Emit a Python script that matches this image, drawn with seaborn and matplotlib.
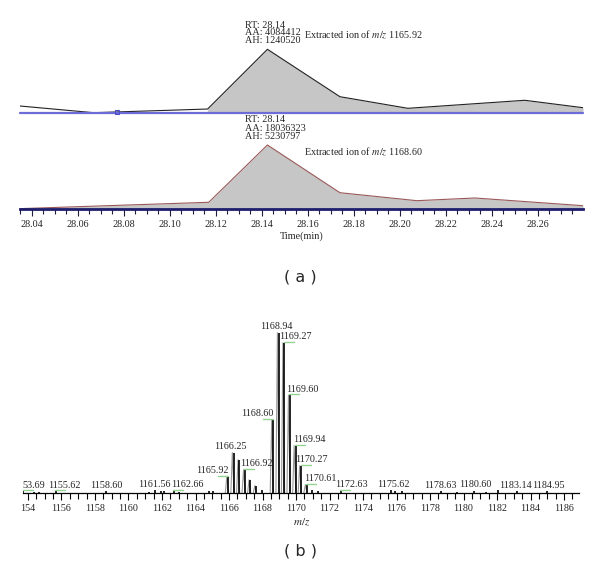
import numpy as np
import pandas as pd
import seaborn as sns
import matplotlib.pyplot as plt
from matplotlib.ticker import MultipleLocator, FixedLocator

# (a) extracted ion chromatograms
rt_top = [28.035, 28.067, 28.1165, 28.1425, 28.174, 28.2035, 28.2543, 28.2796]
int_top = [131000, 0, 72000, 1240520, 313000, 86000, 243000, 98000]
rt_bot = [28.035, 28.117, 28.1425, 28.174, 28.2074, 28.2326, 28.2796]
int_bot = [30000, 548000, 5230797, 1332000, 680000, 900000, 270000]
marker_rt = 28.077
info_top = "RT: 28.14\nAA: 4084412\nAH: 1240520"
info_bot = "RT: 28.14\nAA: 18036323\nAH: 5230797"
title_top = "Extracted ion of $m/z$ 1165.92"
title_bot = "Extracted ion of $m/z$ 1168.60"

# (b) mass spectrum (relative intensity, %)
peak_mz = [1153.69, 1154.3, 1154.6, 1155.62, 1158.60, 1161.2, 1161.56, 1161.9, 1162.1,
           1162.66, 1163.0, 1164.8, 1165.0,
           1165.92, 1166.25, 1166.59, 1166.92, 1167.25, 1167.59, 1167.92,
           1168.60, 1168.94, 1169.27, 1169.60, 1169.94, 1170.27, 1170.61, 1170.94, 1171.27,
           1172.63, 1175.62, 1175.9, 1176.3, 1178.63, 1179.6, 1180.60, 1181.3, 1182.0,
           1183.14, 1184.95]
peak_int = [0.8, 0.6, 0.6, 1.0, 0.8, 0.6, 1.4, 1.0, 0.8,
            1.2, 0.6, 0.8, 1.0,
            10.0, 25.0, 20.6, 14.4, 8.1, 4.4, 1.9,
            45.6, 100.0, 93.8, 61.0, 29.4, 16.9, 5.0, 1.9, 1.2,
            1.2, 1.6, 1.2, 0.8, 0.8, 0.6, 1.2, 0.6, 1.6,
            1.0, 0.8]
label_mz = [1153.69, 1155.62, 1158.60, 1161.56, 1162.66, 1165.92, 1166.25, 1166.92,
            1168.60, 1168.94, 1169.27, 1169.60, 1169.94, 1170.27, 1170.61, 1172.63,
            1175.62, 1178.63, 1180.60, 1183.14, 1184.95]
label_txt = ["53.69", "1155.62", "1158.60", "1161.56", "1162.66", "1165.92", "1166.25",
             "1166.92", "1168.60", "1168.94", "1169.27", "1169.60", "1169.94", "1170.27",
             "1170.61", "1172.63", "1175.62", "1178.63", "1180.60", "1183.14", "1184.95"]
# horizontal shift of each label (pixels) chosen to avoid overlaps
label_dx = [11, 9, 1, 0, 14, -15, -3, 12, -15, -2, 12, 13, 14, 11, 14, 11, 3, 0, 2, -1, 2]
ms_ticks = list(range(1154, 1187, 2))
ms_ticklabels = ["154"] + [str(t) for t in ms_ticks[1:]]

sns.set_theme(style="white")
plt.rcParams["font.family"] = ["Liberation Serif", "DejaVu Serif"]
plt.rcParams["mathtext.fontset"] = "stix"
FS = 7.3

fig = plt.figure(figsize=(6, 5.76), dpi=100)


def px_axes(l, t, r, b):
    ax = fig.add_axes([l / 600, 1 - b / 576, (r - l) / 600, (b - t) / 576])
    ax.set_facecolor("none")
    return ax


xlim_rt = (28.035, 28.2796)

# top chromatogram
ax1 = px_axes(20, 20, 583, 112.7)
ax1.set_xlim(*xlim_rt)
ax1.set_ylim(0, 1240520 * 92.7 / 63.4)
ax1.fill_between(rt_top[2:], 0, int_top[2:], color="#c6c6c6", lw=0)
sns.lineplot(x=rt_top, y=int_top, ax=ax1, color="#222222", lw=0.8, estimator=None, sort=False)
ax1.axhline(0, color="#6c6cd8", lw=1.6, clip_on=False)
ax1.plot([marker_rt], [8000], marker="s", ms=3.5, mfc="none", mec="#4b4bc8", mew=0.8, clip_on=False)
pk = int(np.argmax(int_top))
ax1.annotate(info_top, (rt_top[pk], int_top[pk]), xytext=(-22, 16.6), textcoords="offset pixels",
             fontsize=FS, ha="left", va="center", linespacing=0.8)
ax1.annotate(title_top, (rt_top[pk], int_top[pk]), xytext=(37, 14), textcoords="offset pixels",
             fontsize=FS, ha="left", va="center")
ax1.axis("off")

# bottom chromatogram
ax2 = px_axes(20, 113, 583, 209)
ax2.set_xlim(*xlim_rt)
ax2.set_ylim(0, 5230797 * 96 / 64)
ax2.fill_between(rt_bot, 0, int_bot, color="#c6c6c6", lw=0)
sns.lineplot(x=rt_bot, y=int_bot, ax=ax2, color="#9a5858", lw=0.8, estimator=None, sort=False)
pk = int(np.argmax(int_bot))
ax2.annotate(info_bot, (rt_bot[pk], int_bot[pk]), xytext=(-22, 16.7), textcoords="offset pixels",
             fontsize=FS, ha="left", va="center", linespacing=0.95)
ax2.annotate(title_bot, (rt_bot[pk], int_bot[pk]), xytext=(37, -7.3), textcoords="offset pixels",
             fontsize=FS, ha="left", va="center")
for s in ["top", "right", "left"]:
    ax2.spines[s].set_visible(False)
ax2.spines["bottom"].set_color("#1e1e6e")
ax2.spines["bottom"].set_linewidth(2)
ax2.set_yticks([])
ax2.xaxis.set_major_locator(MultipleLocator(0.02))
ax2.xaxis.set_minor_locator(MultipleLocator(0.005))
ax2.xaxis.set_major_formatter(plt.FormatStrFormatter("%.2f"))
ax2.tick_params(axis="x", which="both", bottom=True, direction="out", color="#1e1e3e",
                width=0.8, labelsize=FS, pad=3)
ax2.tick_params(axis="x", which="major", length=5)
ax2.tick_params(axis="x", which="minor", length=3.5)
ax2.set_xlabel("Time(min)", fontsize=FS, labelpad=2)
ax2.set_ylabel("")

fig.text(0.5, 1 - 277 / 576, "( a )", ha="center", va="center", fontsize=11.5, family="DejaVu Sans")

# (b) mass spectrum
ax3 = px_axes(23.3, 322.7, 579.1, 492.7)
ax3.set_xlim(1153.72, 1186.9)
ax3.set_ylim(0, 170 / 160 * 100)

rows = []
for i, (m, h) in enumerate(zip(peak_mz, peak_int)):
    if h > 3:
        for dx, f in [(-0.14, 0), (-0.05, 1), (0.05, 0)]:
            rows.append({"peak": i, "mz": m + dx, "inten": h * f})
prof = pd.DataFrame(rows)
sns.lineplot(data=prof, x="mz", y="inten", units="peak", estimator=None, sort=False,
             color="#9a9a9a", lw=0.8, ax=ax3)
ax3.vlines(np.array(peak_mz) + 0.03, 0, peak_int, color="black", lw=1.2)

pxu = 1 / 16.75  # m/z units per pixel
for m, t, dx in zip(label_mz, label_txt, label_dx):
    h = peak_int[peak_mz.index(m)]
    ax3.annotate(t, (m, h), xytext=(dx, 6), textcoords="offset pixels", fontsize=FS,
                 ha="center", va="center", annotation_clip=False)
    if abs(dx) > 5:
        sgn = 1 if dx > 0 else -1
        ax3.plot([m, m + sgn * 10 * pxu], [h + 0.6, h + 0.6], color="#93d493", lw=1, clip_on=False)

for s in ["top", "right", "left"]:
    ax3.spines[s].set_visible(False)
ax3.spines["bottom"].set_color("black")
ax3.spines["bottom"].set_linewidth(0.9)
ax3.set_yticks([])
ax3.xaxis.set_major_locator(FixedLocator(ms_ticks))
ax3.set_xticklabels(ms_ticklabels)
ax3.xaxis.set_minor_locator(MultipleLocator(0.5))
ax3.tick_params(axis="x", which="both", bottom=True, direction="out", color="black",
                width=0.8, labelsize=FS, pad=3)
ax3.tick_params(axis="x", which="major", length=5)
ax3.tick_params(axis="x", which="minor", length=4)
ax3.set_xlabel("$m/z$", fontsize=8, labelpad=3)
ax3.set_ylabel("")

fig.text(0.5, 1 - 551 / 576, "( b )", ha="center", va="center", fontsize=11.5, family="DejaVu Sans")

fig.savefig("out.png", dpi=100)
